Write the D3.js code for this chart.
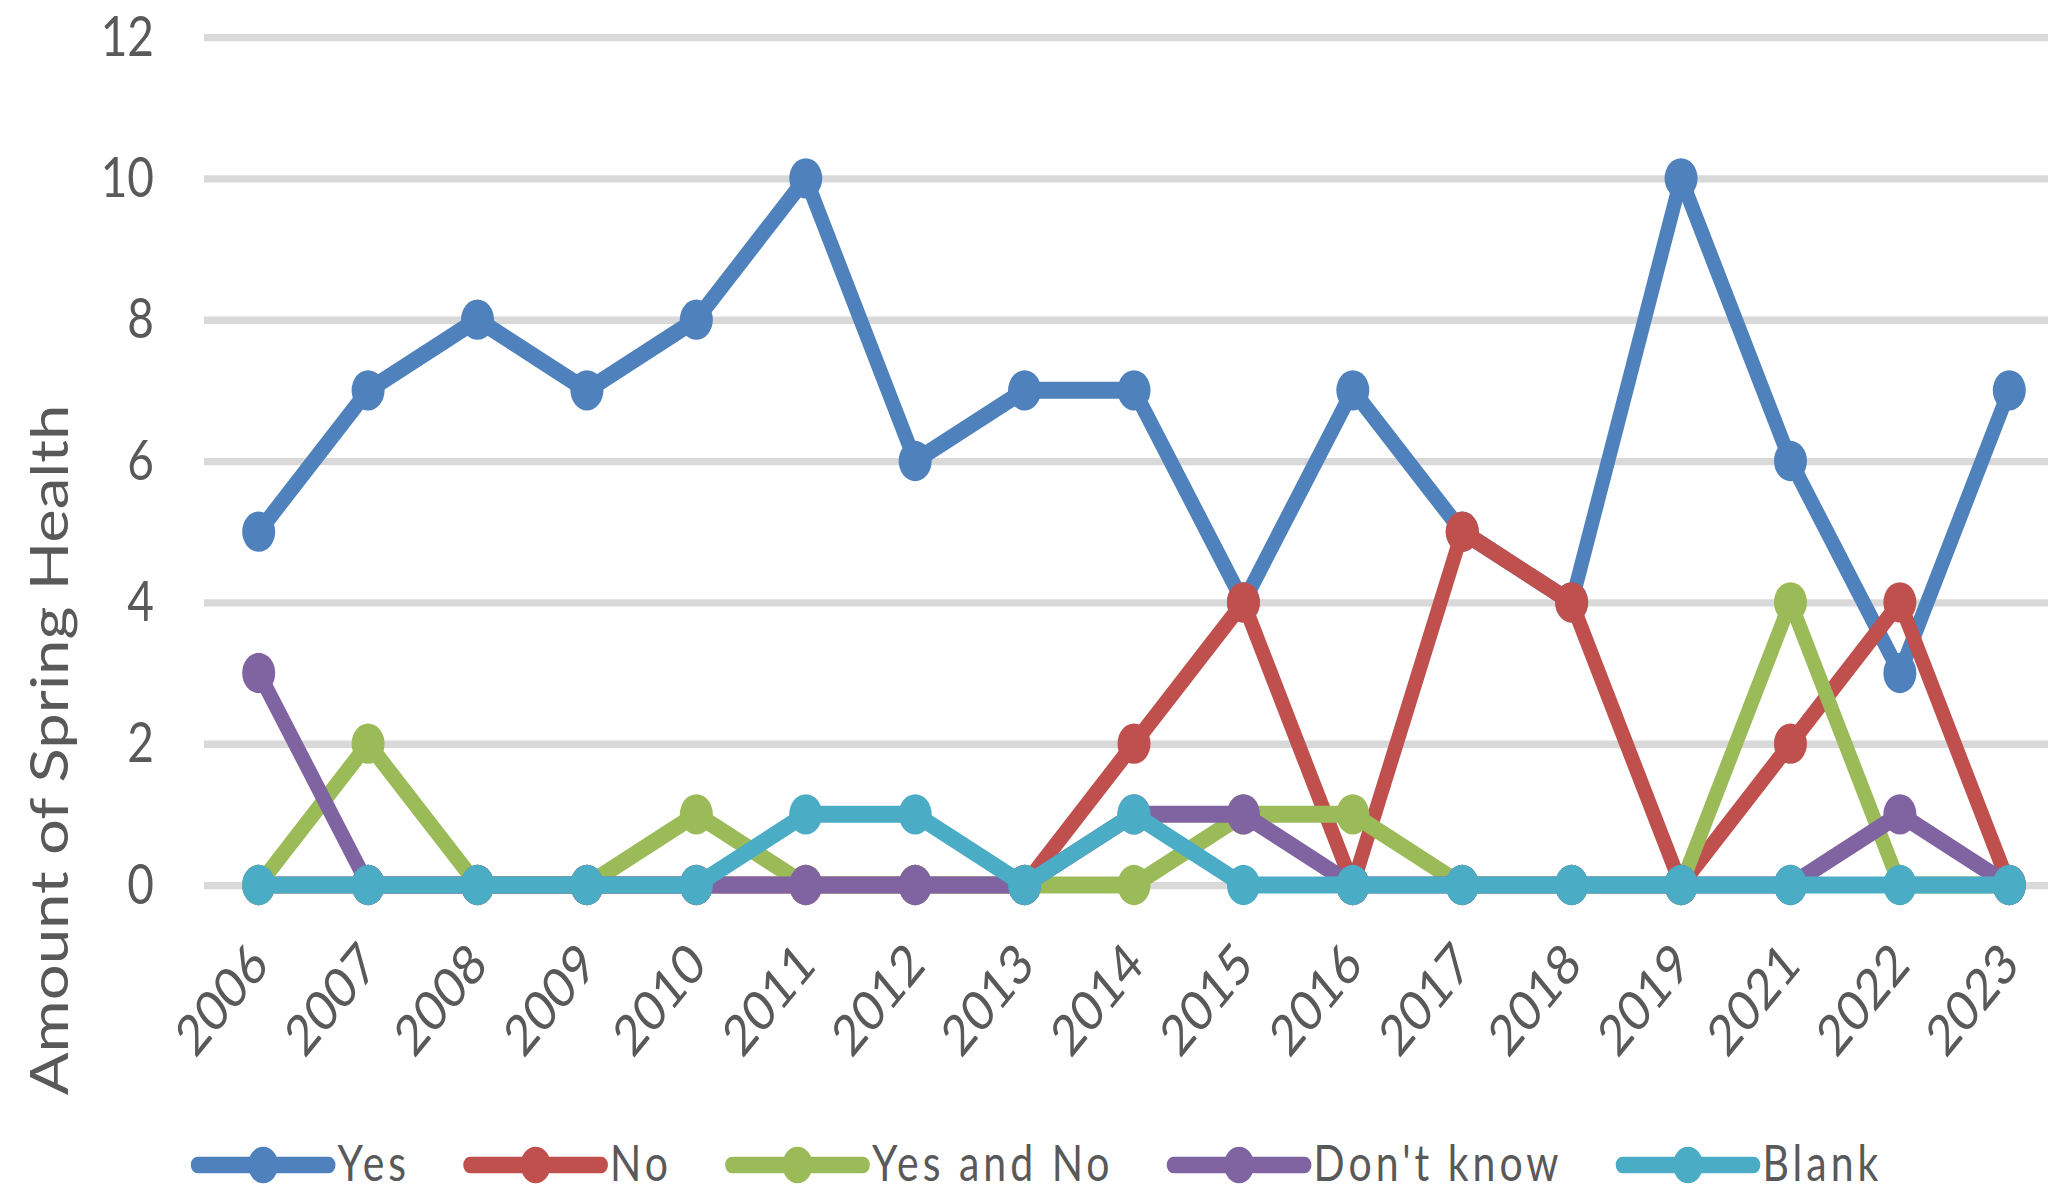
<!DOCTYPE html>
<html>
<head>
<meta charset="utf-8">
<script src="https://cdn.jsdelivr.net/npm/d3@7"></script>
<style>
  html, body { margin: 0; padding: 0; background: #ffffff; }
  svg { display: block; }
  text { font-family: Lato, "Open Sans", sans-serif; fill: #595959; }
</style>
</head>
<body>
<svg id="chart" width="2048" height="1192"></svg>
<script>
// ---- data ----
const years = ["2006","2007","2008","2009","2010","2011","2012","2013","2014","2015","2016","2017","2018","2019","2021","2022","2023"];
const yesValues       = [5, 7, 8, 7, 8, 10, 6, 7, 7, 4, 7, 5, 4, 10, 6, 3, 7];
const noValues        = [0, 0, 0, 0, 0, 0, 0, 0, 2, 4, 0, 5, 4, 0, 2, 4, 0];
const yesAndNoValues  = [0, 2, 0, 0, 1, 0, 0, 0, 0, 1, 1, 0, 0, 0, 4, 0, 0];
const dontKnowValues  = [3, 0, 0, 0, 0, 0, 0, 0, 1, 1, 0, 0, 0, 0, 0, 1, 0];
const blankValues     = [0, 0, 0, 0, 0, 1, 1, 0, 1, 0, 0, 0, 0, 0, 0, 0, 0];
const seriesNames  = ["Yes", "No", "Yes and No", "Don't know", "Blank"];
const seriesColors = ["#4F81BD", "#C0504D", "#9BBB59", "#8064A2", "#4BACC6"];
const yTicks = [0, 2, 4, 6, 8, 10, 12];
const yTitle = "Amount of Spring Health";

const seriesValues = [yesValues, noValues, yesAndNoValues, dontKnowValues, blankValues];

// ---- layout ----
const S = 1.22;              // vertical stretch of the whole picture
const W = 2048;
const plotLeft = 204, plotRight = 2064;
const yZero = 885 / S, yTop = 37 / S;

const svg = d3.select("#chart");
const root = svg.append("g").attr("transform", `scale(1,${S})`);

const x = d3.scalePoint().domain(years).range([plotLeft, plotRight]).padding(0.5);
const y = d3.scaleLinear().domain([0, 12]).range([yZero, yTop]);

// gridlines + y tick labels
const yAxis = root.append("g")
  .attr("transform", `translate(${plotLeft},0)`)
  .call(d3.axisLeft(y).tickValues(yTicks).tickSize(-(W - plotLeft)).tickPadding(50).tickFormat(d3.format("d")));
yAxis.select(".domain").remove();
yAxis.selectAll(".tick line").attr("stroke", "#d9d9d9").attr("stroke-width", 6);
yAxis.selectAll(".tick text")
  .attr("font-size", 46)
  .attr("fill", "#595959")
  .style("font-family", "Lato, 'Open Sans', sans-serif");

// x tick labels
const xAxis = root.append("g")
  .attr("transform", `translate(0,${yZero})`)
  .call(d3.axisBottom(x).tickSize(0));
xAxis.select(".domain").remove();
xAxis.selectAll(".tick text")
  .attr("x", 0).attr("y", 0).attr("dy", "0.35em")
  .attr("text-anchor", "end")
  .attr("transform", "translate(0,56) rotate(-45)")
  .attr("font-size", 46)
  .attr("fill", "#595959")
  .style("font-family", "Lato, 'Open Sans', sans-serif");

// y axis title
root.append("text")
  .attr("transform", `translate(68,${750 / S}) rotate(-90)`)
  .attr("text-anchor", "middle")
  .attr("font-size", 52)
  .text(yTitle);

// series
const line = d3.line().x((d, i) => x(years[i])).y(d => y(d));
seriesValues.forEach((vals, si) => {
  const g = root.append("g");
  g.append("path")
    .attr("d", line(vals))
    .attr("fill", "none")
    .attr("stroke", seriesColors[si])
    .attr("stroke-width", 14)
    .attr("stroke-linejoin", "round")
    .attr("stroke-linecap", "round");
  g.selectAll("circle").data(vals).join("circle")
    .attr("cx", (d, i) => x(years[i]))
    .attr("cy", d => y(d))
    .attr("r", 16.5)
    .attr("fill", seriesColors[si]);
});

// legend
const legY = 1165 / S, legTextY = 1181.5 / S;
const lineLen = 131, textGap = 9, itemGap = 60;
const leg = root.append("g");
const items = seriesNames.map((name, i) => {
  const g = leg.append("g");
  g.append("line").attr("x1", 0).attr("x2", lineLen).attr("y1", legY).attr("y2", legY)
    .attr("stroke", seriesColors[i]).attr("stroke-width", 13.7).attr("stroke-linecap", "round");
  g.append("circle").attr("cx", lineLen / 2).attr("cy", legY).attr("r", 15).attr("fill", seriesColors[i]);
  const t = g.append("text").attr("x", lineLen + textGap).attr("y", legTextY)
    .attr("font-size", 41).attr("letter-spacing", 4).text(name);
  return { g, w: lineLen + textGap + t.node().getComputedTextLength() };
});
const total = items.reduce((a, it) => a + it.w, 0) + itemGap * (items.length - 1);
let cx = 1040 - total / 2;
items.forEach(it => { it.g.attr("transform", `translate(${cx},0)`); cx += it.w + itemGap; });
</script>
</body>
</html>
